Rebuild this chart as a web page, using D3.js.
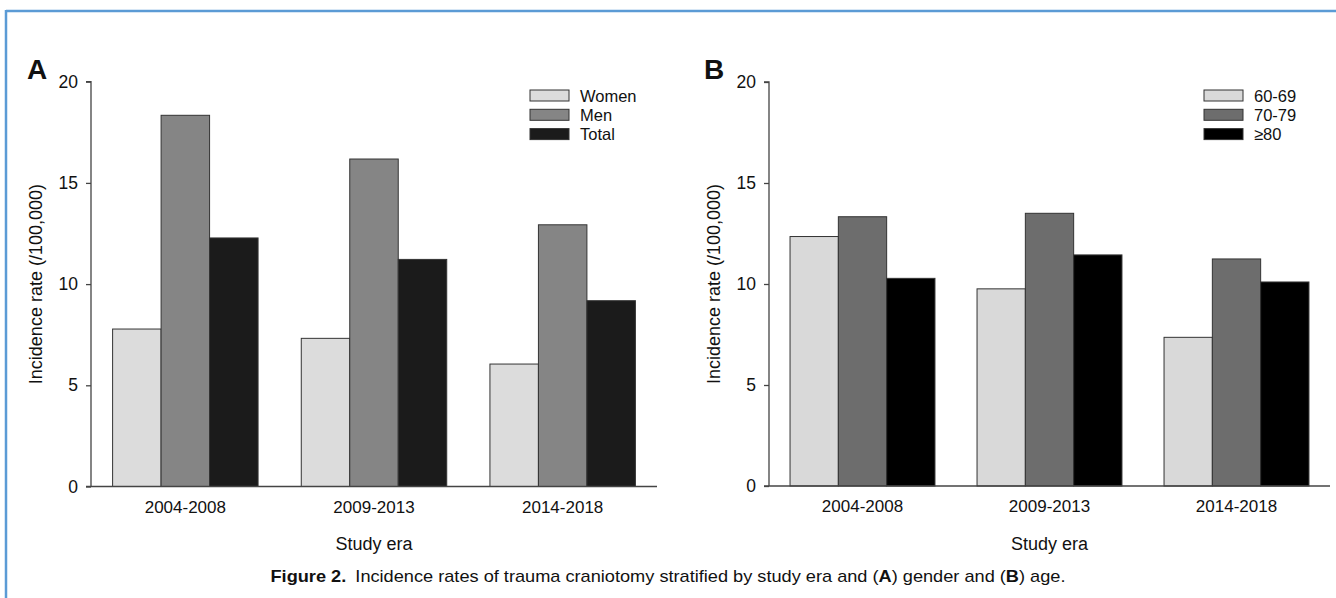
<!DOCTYPE html>
<html>
<head>
<meta charset="utf-8">
<script src="https://cdn.jsdelivr.net/npm/d3@7"></script>
<style>
  html, body { margin: 0; padding: 0; background: #fff; }
  svg { display: block; }
  text { font-family: "Liberation Sans", Arial, sans-serif; fill: #111; }
</style>
</head>
<body>
<svg id="chart" width="1336" height="598"></svg>
<script>
// ---- data ----
const eras = ["2004-2008", "2009-2013", "2014-2018"];
const yTicks = [0, 5, 10, 15, 20];

const genderSeries = ["Women", "Men", "Total"];
const women = [7.78, 7.32, 6.05];
const men = [18.34, 16.18, 12.93];
const total = [12.28, 11.22, 9.18];
const genderColors = ["#dcdcdc", "#858585", "#1b1b1b"];

const ageSeries = ["60-69", "70-79", "≥80"];
const age6069 = [12.35, 9.76, 7.36];
const age7079 = [13.33, 13.5, 11.24];
const age80 = [10.28, 11.44, 10.1];
const ageColors = ["#d9d9d9", "#6d6d6d", "#000000"];

const caption = "Incidence rates of trauma craniotomy stratified by study era and (";

const svg = d3.select("#chart");

// border
svg.append("line").attr("x1", 6).attr("x2", 1336).attr("y1", 11).attr("y2", 11)
  .attr("stroke", "#5b9bd5").attr("stroke-width", 2.5);
svg.append("line").attr("x1", 6).attr("x2", 6).attr("y1", 10).attr("y2", 598)
  .attr("stroke", "#5b9bd5").attr("stroke-width", 2.5);

function panel(opts) {
  const g = svg.append("g");
  const y = d3.scaleLinear().domain([0, 20]).range([opts.y0, opts.y20]);
  const x0 = d3.scaleBand().domain(eras).range([opts.xl, opts.xr])
    .paddingInner(opts.pad).paddingOuter(opts.pad / 2);
  const x1 = d3.scaleBand().domain(opts.series).range([0, x0.bandwidth()]);

  // bars
  opts.series.forEach((s, si) => {
    g.selectAll(null).data(eras).enter().append("rect")
      .attr("x", d => x0(d) + x1(s))
      .attr("y", (d, i) => y(opts.values[si][i]))
      .attr("width", x1.bandwidth())
      .attr("height", (d, i) => y(0) - y(opts.values[si][i]))
      .attr("fill", opts.colors[si])
      .attr("stroke", "#333").attr("stroke-width", 1);
  });

  // y axis
  const ya = g.append("g").attr("transform", `translate(${opts.xl},0)`)
    .call(d3.axisLeft(y).tickValues(yTicks).tickSize(5).tickPadding(8).tickFormat(d3.format("d")));
  ya.select(".domain").attr("stroke", "#444").attr("stroke-width", 1.3).attr("d", `M-5,${opts.y20}H0V${opts.y0}`);
  ya.selectAll(".tick line").attr("stroke", "#444").attr("stroke-width", 1.3);
  ya.selectAll(".tick text").style("font-size", "17.5px").style("font-family", "Liberation Sans, Arial, sans-serif").attr("fill", "#111");

  // x axis
  const xa = g.append("g").attr("transform", `translate(0,${opts.y0})`)
    .call(d3.axisBottom(x0).tickSize(0).tickPadding(14));
  xa.select(".domain").attr("stroke", "#444").attr("stroke-width", 1.3)
    .attr("d", `M${opts.xl - 5},0H${opts.xr}`);
  xa.selectAll(".tick text").style("font-size", "17px").style("font-family", "Liberation Sans, Arial, sans-serif").attr("fill", "#111");

  // axis titles
  g.append("text").attr("transform", `translate(${opts.xl - 49},${(opts.y0 + opts.y20) / 2}) rotate(-90)`)
    .attr("text-anchor", "middle").style("font-size", "18px").text("Incidence rate (/100,000)");
  g.append("text").attr("x", (opts.xl + opts.xr) / 2).attr("y", 550)
    .attr("text-anchor", "middle").style("font-size", "18px").text("Study era");

  // panel label
  g.append("text").attr("x", opts.labelX).attr("y", 79)
    .style("font-size", "28px").style("font-weight", "bold").text(opts.label);

  // legend
  opts.series.forEach((s, si) => {
    const ly = 90 + si * 19.3;
    g.append("rect").attr("x", opts.legX).attr("y", ly).attr("width", 39).attr("height", 11)
      .attr("fill", opts.colors[si]).attr("stroke", "#333").attr("stroke-width", 1);
    g.append("text").attr("x", opts.legX + 50).attr("y", ly + 11.5)
      .style("font-size", "16.5px").text(s);
  });
}

panel({ xl: 91, xr: 657, y0: 486.5, y20: 81.7, pad: 0.229,
  series: genderSeries, values: [women, men, total], colors: genderColors,
  label: "A", labelX: 27, legX: 530 });

panel({ xl: 769, xr: 1330, y0: 486, y20: 82, pad: 0.225,
  series: ageSeries, values: [age6069, age7079, age80], colors: ageColors,
  label: "B", labelX: 704, legX: 1204 });

// caption
const cap = svg.append("text").attr("x", 668).attr("y", 582).attr("text-anchor", "middle")
  .attr("textLength", 795).attr("lengthAdjust", "spacingAndGlyphs")
  .style("font-family", "'Liberation Sans Narrow', 'Liberation Sans', Arial, sans-serif")
  .style("font-size", "17px").attr("fill", "#222");
cap.append("tspan").style("font-weight", "bold").text("Figure 2.");
cap.append("tspan").text("\u2002" + caption);
cap.append("tspan").style("font-weight", "bold").text("A");
cap.append("tspan").text(") gender and (");
cap.append("tspan").style("font-weight", "bold").text("B");
cap.append("tspan").text(") age.");
</script>
</body>
</html>
